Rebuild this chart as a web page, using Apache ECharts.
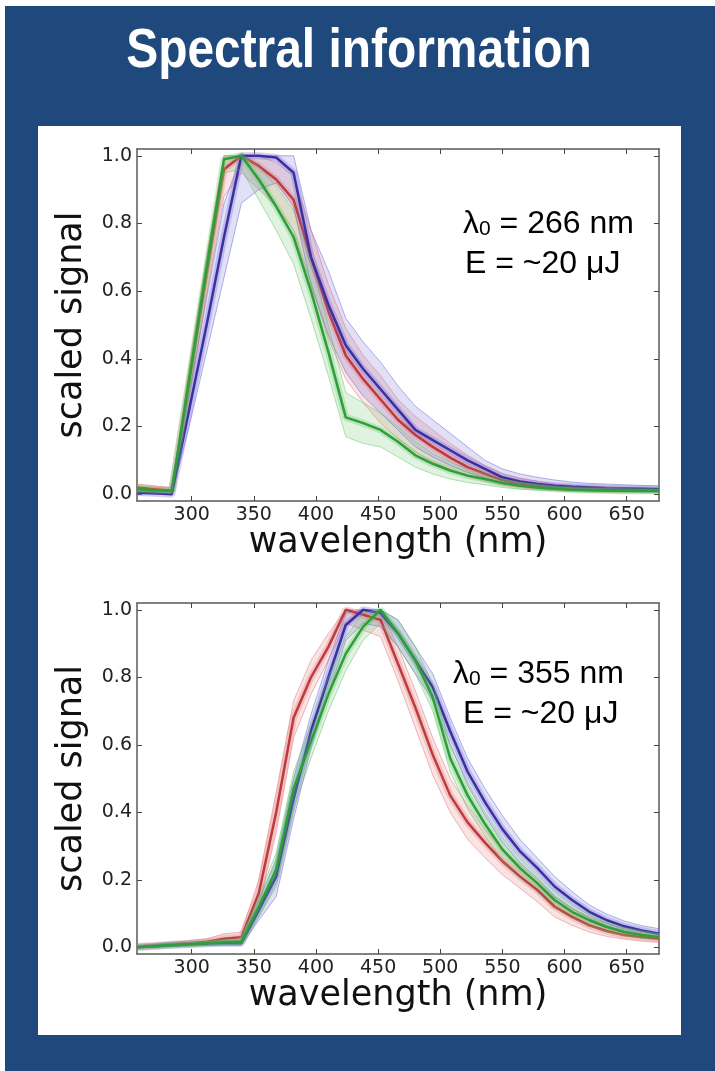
<!DOCTYPE html>
<html><head><meta charset="utf-8">
<script src="https://cdn.jsdelivr.net/npm/echarts@6/dist/echarts.min.js"></script>
<style>html,body{margin:0;padding:0;background:#1f497d;}#c{width:715px;height:1071px;}</style>
</head><body><div id="c"></div>
<script>
// wavelength channels (nm)
const wavelengths = [256,270,284,298,312,326,340,354,368,382,396,410,424,438,452,466,480,494,508,522,536,550,564,578,592,606,620,634,648,662,676];
const xTicks = [300,350,400,450,500,550,600,650];
const yTicks = [0,0.2,0.4,0.6,0.8,1.0];

// lambda0 = 266 nm
const blue266   = [0.005,0.003,0.0,0.25,0.50,0.76,1.0,1.0,0.995,0.95,0.70,0.56,0.44,0.37,0.31,0.25,0.19,0.16,0.13,0.10,0.075,0.05,0.038,0.03,0.025,0.022,0.02,0.018,0.017,0.016,0.015];
const blueHi266 = [0.01,0.008,0.005,0.30,0.58,0.86,1.0,1.0,1.0,1.0,0.78,0.66,0.52,0.45,0.39,0.32,0.26,0.22,0.18,0.14,0.10,0.075,0.06,0.05,0.042,0.036,0.032,0.03,0.028,0.026,0.025];
const blueLo266 = [0.0,0.0,0.0,0.20,0.42,0.64,0.86,0.90,0.92,0.85,0.62,0.47,0.36,0.29,0.24,0.19,0.14,0.11,0.085,0.065,0.048,0.032,0.024,0.018,0.014,0.012,0.01,0.009,0.008,0.007,0.006];
const red266    = [0.02,0.015,0.01,0.33,0.65,0.96,1.0,0.97,0.93,0.87,0.70,0.54,0.41,0.34,0.28,0.22,0.175,0.14,0.108,0.08,0.06,0.042,0.032,0.025,0.02,0.017,0.015,0.013,0.012,0.012,0.011];
const redHi266  = [0.03,0.025,0.02,0.37,0.70,1.0,1.0,1.0,0.98,0.94,0.78,0.62,0.49,0.41,0.35,0.28,0.23,0.19,0.15,0.115,0.085,0.062,0.048,0.038,0.03,0.026,0.024,0.022,0.02,0.019,0.018];
const redLo266  = [0.01,0.008,0.005,0.29,0.59,0.88,0.95,0.90,0.85,0.78,0.62,0.46,0.34,0.27,0.21,0.165,0.125,0.095,0.072,0.052,0.038,0.027,0.02,0.015,0.012,0.01,0.009,0.008,0.007,0.007,0.006];
const green266   = [0.015,0.012,0.01,0.34,0.67,0.99,1.0,0.93,0.85,0.76,0.60,0.42,0.227,0.21,0.19,0.155,0.115,0.09,0.07,0.055,0.045,0.033,0.025,0.02,0.016,0.013,0.012,0.011,0.01,0.01,0.01];
const greenHi266 = [0.025,0.02,0.018,0.37,0.70,1.0,1.0,0.97,0.91,0.84,0.68,0.50,0.30,0.27,0.24,0.20,0.155,0.12,0.095,0.075,0.06,0.045,0.035,0.028,0.022,0.019,0.017,0.016,0.015,0.014,0.014];
const greenLo266 = [0.008,0.006,0.004,0.31,0.63,0.95,0.96,0.87,0.78,0.68,0.52,0.35,0.17,0.15,0.14,0.11,0.08,0.06,0.045,0.035,0.028,0.02,0.015,0.012,0.01,0.008,0.007,0.006,0.006,0.005,0.005];

// lambda0 = 355 nm
const blue355   = [0.0,0.003,0.006,0.008,0.01,0.012,0.012,0.11,0.21,0.44,0.64,0.80,0.955,1.0,0.99,0.93,0.85,0.77,0.64,0.52,0.43,0.35,0.285,0.235,0.18,0.14,0.105,0.08,0.062,0.05,0.04];
const blueHi355 = [0.004,0.007,0.01,0.013,0.016,0.02,0.022,0.14,0.26,0.50,0.69,0.85,0.99,1.0,1.0,0.97,0.89,0.81,0.68,0.56,0.47,0.39,0.32,0.265,0.21,0.165,0.125,0.098,0.078,0.064,0.055];
const blueLo355 = [0.0,0.0,0.002,0.004,0.005,0.006,0.006,0.08,0.15,0.38,0.59,0.75,0.91,0.96,0.95,0.89,0.81,0.73,0.60,0.48,0.39,0.31,0.25,0.205,0.15,0.115,0.085,0.063,0.048,0.038,0.03];
const red355    = [0.002,0.005,0.009,0.012,0.016,0.025,0.03,0.16,0.40,0.68,0.80,0.89,1.0,0.985,0.97,0.84,0.71,0.57,0.45,0.37,0.31,0.255,0.21,0.17,0.12,0.09,0.065,0.048,0.036,0.03,0.025];
const redHi355  = [0.005,0.01,0.015,0.02,0.025,0.04,0.045,0.20,0.46,0.73,0.85,0.93,1.0,1.0,1.0,0.89,0.76,0.62,0.50,0.42,0.35,0.29,0.245,0.20,0.15,0.115,0.09,0.07,0.055,0.045,0.04];
const redLo355  = [0.0,0.0,0.003,0.006,0.01,0.015,0.02,0.12,0.34,0.62,0.75,0.85,0.96,0.94,0.92,0.79,0.65,0.51,0.40,0.32,0.265,0.215,0.175,0.135,0.09,0.065,0.045,0.032,0.024,0.018,0.014];
const green355   = [0.0,0.003,0.007,0.009,0.012,0.015,0.016,0.12,0.23,0.47,0.61,0.75,0.87,0.95,1.0,0.93,0.85,0.74,0.56,0.45,0.365,0.29,0.235,0.19,0.14,0.105,0.08,0.06,0.045,0.036,0.03];
const greenHi355 = [0.004,0.007,0.011,0.013,0.016,0.02,0.024,0.15,0.28,0.52,0.66,0.80,0.92,0.99,1.0,0.97,0.89,0.78,0.60,0.49,0.40,0.325,0.265,0.215,0.165,0.125,0.097,0.075,0.058,0.048,0.04];
const greenLo355 = [0.0,0.0,0.003,0.005,0.007,0.009,0.01,0.09,0.18,0.41,0.56,0.70,0.82,0.91,0.96,0.89,0.81,0.70,0.52,0.41,0.33,0.255,0.205,0.165,0.118,0.087,0.064,0.047,0.034,0.026,0.022];

const titleText = 'Spectral information';
const xName = 'wavelength (nm)';
const yName = 'scaled signal';

const COL = {
  blue:  {main:'#3d2f9e', band:'#6a66d8'},
  red:   {main:'#bf3a3e', band:'#e27474'},
  green: {main:'#2e9e38', band:'#62c466'}
};

function pairs(ys){ return wavelengths.map((w,i)=>[w, ys[i]]); }

function groupSeries(g, key, mean, hi, lo){
  const c = COL[key];
  const ax = {xAxisIndex:g*2, yAxisIndex:g*2};
  return [
    Object.assign({type:'custom', silent:true, clip:true, data:[[wavelengths[0], lo[0]]],
      encode:{x:0, y:1},
      renderItem:function(params, api){
        const top = wavelengths.map((w,i)=>api.coord([w, hi[i]]));
        const bot = wavelengths.map((w,i)=>api.coord([w, lo[i]])).reverse();
        return {type:'polygon', shape:{points:top.concat(bot)},
                style:{fill:c.band, opacity:0.2}};
      }}, ax),
    Object.assign({type:'line', data:pairs(hi), symbol:'none', silent:true,
      lineStyle:{width:1, color:c.band, opacity:0.5}}, ax),
    Object.assign({type:'line', data:pairs(lo), symbol:'none', silent:true,
      lineStyle:{width:1, color:c.band, opacity:0.5}}, ax),
    Object.assign({type:'line', data:pairs(mean), symbol:'none', silent:true,
      lineStyle:{width:7, color:c.band, opacity:0.3}}, ax),
    Object.assign({type:'line', data:pairs(mean), symbol:'none', silent:true,
      lineStyle:{width:2.5, color:c.main}}, ax)
  ];
}

const axisLineStyle = {color:'#5a5a5a', width:1.5};
const tickStyle = {inside:true, length:5, lineStyle:{color:'#444', width:1}};
const labelFont = {fontFamily:'DejaVu Sans', fontSize:19, color:'#222'};
const nameFont = {fontFamily:'DejaVu Sans', fontSize:35, color:'#111'};

function axesFor(g){
  const xs = [
    {type:'value', gridIndex:g, min:256, max:676, position:'bottom',
     axisLine:{show:true, onZero:false, lineStyle:axisLineStyle},
     axisTick:Object.assign({customValues:xTicks}, tickStyle),
     axisLabel:Object.assign({customValues:xTicks, margin:5}, labelFont),
     splitLine:{show:false},
     name:xName, nameLocation:'middle', nameGap:24, nameTextStyle:nameFont},
    {type:'value', gridIndex:g, min:256, max:676, position:'top',
     axisLine:{show:true, onZero:false, lineStyle:axisLineStyle},
     axisTick:Object.assign({customValues:xTicks}, tickStyle),
     axisLabel:{show:false}, splitLine:{show:false}}
  ];
  const ys = [
    {type:'value', gridIndex:g, min:-0.02, max:1.02, position:'left',
     axisLine:{show:true, onZero:false, lineStyle:axisLineStyle},
     axisTick:Object.assign({customValues:yTicks}, tickStyle),
     axisLabel:Object.assign({customValues:yTicks, margin:5, formatter:v=>v.toFixed(1)}, labelFont),
     splitLine:{show:false},
     name:yName, nameLocation:'middle', nameGap:48, nameRotate:90, nameTextStyle:nameFont},
    {type:'value', gridIndex:g, min:-0.02, max:1.02, position:'right',
     axisLine:{show:true, onZero:false, lineStyle:axisLineStyle},
     axisTick:Object.assign({customValues:yTicks}, tickStyle),
     axisLabel:{show:false}, splitLine:{show:false}}
  ];
  return {xs, ys};
}

const a0 = axesFor(0), a1 = axesFor(1);

const annoFont = 'Liberation Sans, Arial, sans-serif';
function lambdaText(x, y, value){
  return {type:'text', left:x, top:y, z:100,
    style:{text:'{m|λ}{s|0}{m| = ' + value + ' nm}', fill:'#000',
      rich:{m:{fontFamily:annoFont, fontSize:32, lineHeight:36, verticalAlign:'bottom', fill:'#000'},
            s:{fontFamily:annoFont, fontSize:21, lineHeight:16, verticalAlign:'bottom', fill:'#000'}}}};
}
function energyText(x, y){
  return {type:'text', left:x, top:y, z:100,
    style:{text:'E = ~20 μJ', fill:'#000', fontFamily:annoFont, fontSize:32}};
}

const option = {
  animation:false,
  backgroundColor:'#1f497d',
  grid:[
    {left:137, top:149, width:522, height:352},
    {left:137, top:603, width:522, height:351}
  ],
  xAxis: a0.xs.concat(a1.xs),
  yAxis: a0.ys.concat(a1.ys),
  graphic:[
    {type:'rect', z:-10, shape:{x:0, y:0, width:715, height:6}, style:{fill:'#ffffff'}},
    {type:'rect', z:-10, shape:{x:0, y:0, width:5, height:1071}, style:{fill:'#ffffff'}},
    {type:'rect', z:-10, shape:{x:38, y:126, width:643, height:909}, style:{fill:'#ffffff'}},
    {type:'text', z:10, x:359, y:52, scaleX:0.855, style:{text:titleText, fill:'#ffffff', fontFamily:'Liberation Sans, Arial, sans-serif',
      fontWeight:'bold', fontSize:56, align:'center', verticalAlign:'middle'}},
    lambdaText(463, 208, '266'),
    energyText(465, 248),
    lambdaText(453, 658, '355'),
    energyText(463, 698)
  ],
  series: [].concat(
    groupSeries(0,'red',red266,redHi266,redLo266),
    groupSeries(0,'blue',blue266,blueHi266,blueLo266),
    groupSeries(0,'green',green266,greenHi266,greenLo266),
    groupSeries(1,'red',red355,redHi355,redLo355),
    groupSeries(1,'blue',blue355,blueHi355,blueLo355),
    groupSeries(1,'green',green355,greenHi355,greenLo355)
  )
};
const chart = echarts.init(document.getElementById('c'));
chart.setOption(option);
</script></body></html>
